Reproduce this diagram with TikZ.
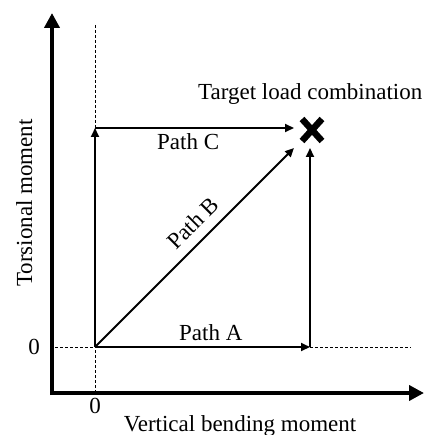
\documentclass[tikz,border=0pt]{standalone}
\usepackage{fontspec}
\setmainfont{Liberation Serif}
\usetikzlibrary{arrows.meta,calc}
\begin{document}
\begin{tikzpicture}[x=1pt,y=-1pt,
  lbl/.style={font=\fontsize{23}{27}\selectfont, inner sep=0pt},
  axis/.style={line width=4.5pt, -{Triangle[length=15pt,width=15pt]}},
  pth/.style={line width=2pt, -{Triangle[length=9pt,width=8pt]}},
  guide/.style={line width=0.8pt, dash pattern=on 3pt off 2pt}]
\useasboundingbox (0,0) rectangle (424,435);
% coordinates
\coordinate (O) at (95,347);
\coordinate (Ax0) at (50,393);
\coordinate (Ytip) at (52,13);
\coordinate (Xtip) at (424,393);
\coordinate (Ctop) at (95,128);
\coordinate (Cend) at (294,128);
\coordinate (Bend) at (294,148);
\coordinate (Aend) at (310,347);
\coordinate (Atop) at (310,148);
\coordinate (T) at (312,130);
\coordinate (Vg0) at (95,25);
\coordinate (Vg1) at (95,393);
\coordinate (Hg0) at (55,347);
\coordinate (Hg1) at (411,347);
% guides
\draw[guide] (Vg0) -- (Vg1);
\draw[guide] (Hg0) -- (Hg1);
% axes
\draw[axis] (52,395) -- (Ytip);
\draw[axis] (Ax0) -- (Xtip);
% paths
\draw[pth] (O) -- (Ctop);
\draw[pth] (Ctop) -- (Cend);
\draw[pth] (O) -- (Bend);
\draw[pth] (O) -- (Aend);
\draw[pth] (Aend) -- (Atop);
% target mark
\draw[line width=6.5pt] ($(T)+(-10,-11)$) -- ($(T)+(10,11)$);
\draw[line width=6.5pt] ($(T)+(-10,11)$) -- ($(T)+(10,-11)$);
% labels
\node[lbl, anchor=base west] (tl) at (198,100) {Target load combination};
\node[lbl, anchor=base west] (pc) at (157,150) {Path C};
\node[lbl, anchor=base west] (pa) at (179,340) {Path A};
\node[lbl, rotate=45] (pb) at (193,223) {Path B};
\node[lbl, anchor=base] (z1) at (34,354) {0};
\node[lbl, anchor=base] (z2) at (95,413) {0};
\node[lbl, anchor=base] (xl) at (240,431) {Vertical bending moment};
\node[lbl, anchor=base, rotate=90] (yl) at (32,203) {Torsional moment};
\end{tikzpicture}
\end{document}
